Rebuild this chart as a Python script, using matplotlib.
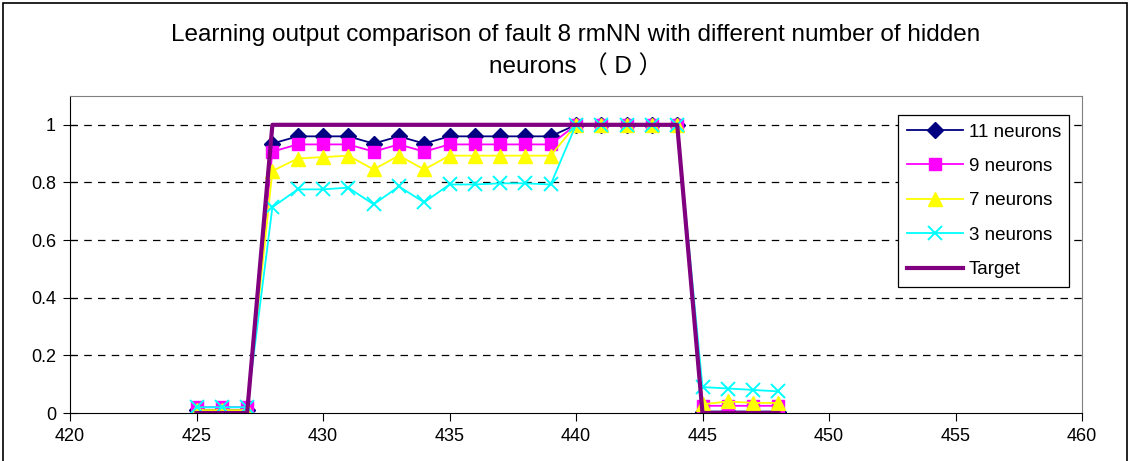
import numpy as np
import matplotlib
matplotlib.use('Agg')
import matplotlib.pyplot as plt
from matplotlib.patches import Rectangle

plt.rcParams['font.family'] = ['Liberation Sans', 'Noto Sans CJK SC', 'DejaVu Sans']

# sample index
x = list(range(425, 449))

# network outputs
n11 = [0.01, 0.01, 0.01, 0.935, 0.96, 0.96, 0.96, 0.935, 0.96, 0.935, 0.96, 0.96,
       0.96, 0.96, 0.96, 1.0, 1.0, 1.0, 1.0, 1.0, 0.005, 0.005, 0.005, 0.005]
n9 = [0.02, 0.02, 0.02, 0.907, 0.932, 0.932, 0.932, 0.907, 0.932, 0.907, 0.932, 0.932,
      0.932, 0.932, 0.932, 1.0, 1.0, 1.0, 1.0, 1.0, 0.025, 0.025, 0.025, 0.025]
n7 = [0.01, 0.01, 0.01, 0.84, 0.883, 0.888, 0.893, 0.845, 0.893, 0.845, 0.893, 0.893,
      0.893, 0.893, 0.893, 1.0, 1.0, 1.0, 1.0, 1.0, 0.03, 0.04, 0.035, 0.035]
n3 = [0.02, 0.02, 0.02, 0.714, 0.776, 0.776, 0.782, 0.724, 0.786, 0.731, 0.793, 0.793,
      0.797, 0.797, 0.793, 1.0, 1.0, 1.0, 1.0, 1.0, 0.09, 0.085, 0.08, 0.075]
target = [0, 0, 0, 1, 1, 1, 1, 1, 1, 1, 1, 1,
          1, 1, 1, 1, 1, 1, 1, 1, 0, 0, 0, 0]

fig = plt.figure(figsize=(11.3, 4.61), dpi=100)
ax = fig.add_axes([70/1130, 1-413/461, 1012/1130, 317/461])

# outer chart border
fig.patches.append(Rectangle((3/1130, -0.1), 1-6/1130, 1.1-3/461, transform=fig.transFigure,
                             fill=False, edgecolor='black', linewidth=1.2))

ax.plot(x, n11, color='#000080', marker='D', markersize=8, linewidth=1.3, label='11 neurons')
ax.plot(x, n9, color='#FF00FF', marker='s', markersize=9, linewidth=1.3, label='9 neurons')
ax.plot(x, n7, color='#FFFF00', marker='^', markersize=10, linewidth=1.3, label='7 neurons')
ax.plot(x, n3, color='#00FFFF', marker='x', markersize=10, markeredgewidth=1.4, linewidth=1.3, label='3 neurons')
ax.plot(x, target, color='#800080', linewidth=3, label='Target')

ax.set_xlim(420, 460)
ax.set_ylim(0, 1.1)
ax.set_xticks(range(420, 461, 5))
ax.set_yticks([0, 0.2, 0.4, 0.6, 0.8, 1])
ax.set_yticklabels(['0', '0.2', '0.4', '0.6', '0.8', '1'])
ax.tick_params(axis='x', direction='out', length=6, labelsize=13, pad=5)
ax.tick_params(axis='y', direction='inout', length=10, labelsize=13, pad=5)

for yv in [0.2, 0.4, 0.6, 0.8, 1.0]:
    ax.axhline(yv, color='black', linestyle=(0, (6, 5)), linewidth=0.9, zorder=0)

ax.spines['top'].set_color('#808080')
ax.spines['right'].set_color('#808080')

ax.set_title('Learning output comparison of fault 8 rmNN with different number of hidden\nneurons （ D ）',
             fontsize=17.5, linespacing=1.55, pad=16)

leg = ax.legend(loc='upper right', bbox_to_anchor=(0.9875, 0.94), borderaxespad=0,
                fontsize=13.5, frameon=True, fancybox=False, edgecolor='black', framealpha=1,
                handlelength=3.0, borderpad=0.45, labelspacing=0.92, handletextpad=0.3)
leg.get_frame().set_linewidth(0.9)

fig.savefig('out.png', dpi=100)
